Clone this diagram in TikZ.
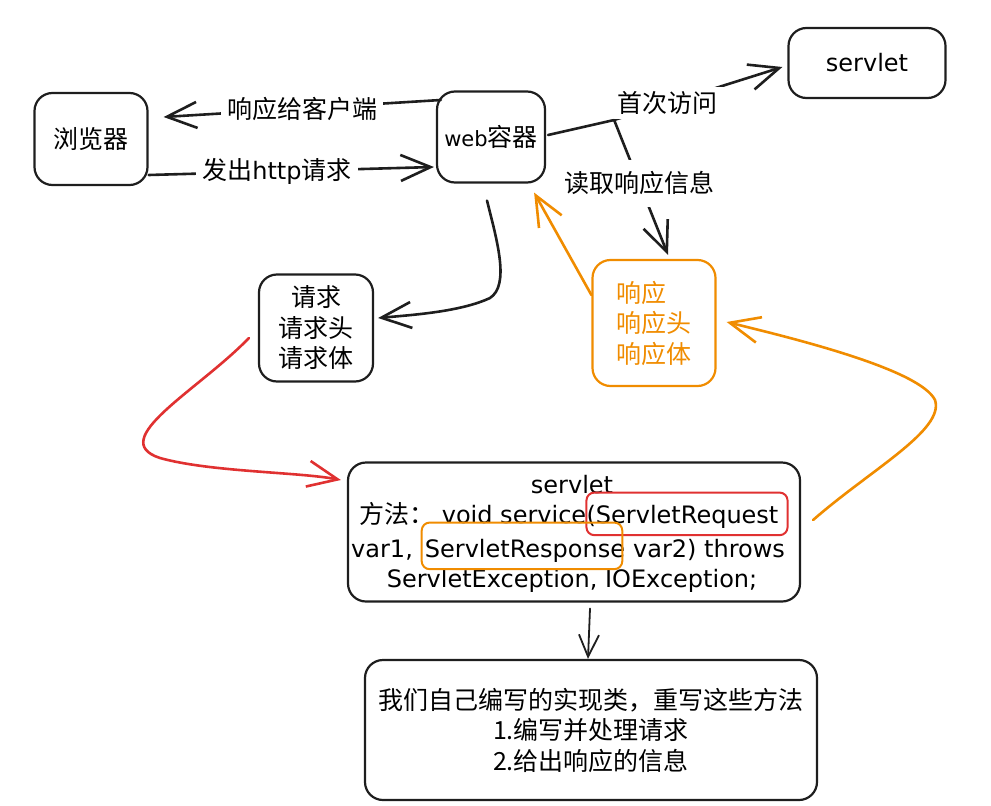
\documentclass[tikz,border=0pt]{standalone}
\usepackage{fontspec}
\setmainfont{Noto Sans CJK SC}
\newfontfamily\engfont{DejaVu Sans}
\newcommand\eng[2][24]{{\engfont\fontsize{#1}{30}\selectfont #2}}
\usetikzlibrary{arrows.meta,calc,positioning}

\definecolor{ink}{HTML}{1E1E1E}
\definecolor{exorange}{HTML}{F08C00}
\definecolor{exred}{HTML}{E03131}

\tikzset{
  box/.style={draw=ink, line width=2.2pt, rounded corners=18pt, align=center,
    inner sep=0pt, font=\fontsize{25}{30.5}\selectfont},
  conn/.style={draw=ink, line width=2.6pt, line cap=round, line join=round,
    -{Straight Barb[length=30pt,width=26pt,line width=2.6pt]}},
  thinconn/.style={draw=ink, line width=1.8pt, line cap=round, line join=round,
    -{Straight Barb[length=22pt,width=20pt,line width=1.8pt]}},
  lbl/.style={fill=white, font=\fontsize{25}{30}\selectfont, inner xsep=6pt, inner ysep=4pt},
  word/.style={inner sep=0pt, anchor=base west},
  hilite/.style={line width=2pt, rounded corners=8pt},
}

\begin{document}
\begin{tikzpicture}[x=1pt, y=-1pt]
\path[use as bounding box] (0,0) rectangle (991,806);

% boxes
\node[box, minimum width=113pt, minimum height=92pt] (browser) at (91,139) {浏览器};
\node[box, minimum width=108pt, minimum height=91pt] (web) at (491,137) {\eng[21]{web}容器};
\node[box, minimum width=157pt, minimum height=70pt] (srv) at (867,63) {\eng{servlet}};
\node[box, minimum width=114pt, minimum height=107pt] (req) at (316,328) {请求\\请求头\\请求体};
\node[box, draw=exorange, text=exorange, align=left, minimum width=123pt,
  minimum height=126pt] (resp) at (654,323) {响应\\响应头\\响应体};
\node[box, minimum width=452pt, minimum height=139pt] (svl) at (574,532) {};
\node[box, minimum width=452pt, minimum height=140pt] (impl) at (591,730)
  {我们自己编写的实现类，重写这些方法\\1.编写并处理请求\\2.给出响应的信息};

% servlet method text
\node[inner sep=0pt, anchor=base] (sl1) at (572,493) {\eng{servlet}};
\node[word] (sl2a) at (359,523) {\fontsize{25}{30}\selectfont 方法：\eng{\ void service}};
\node[word] (sl2b) at (sl2a.base east) {\eng{(ServletRequest}};
\node[word] (sl3a) at (351,557) {\eng{var1,\ \,}};
\node[word] (sl3b) at (sl3a.base east) {\eng{ServletResponse}};
\node[word] (sl3c) at (sl3b.base east) {\eng{\ var2) throws}};
\node[inner sep=0pt, anchor=base] (sl4) at (572,587) {\eng{ServletException, IOException;}};

\draw[hilite, exred] ($(sl2b.north west)+(0,-12)$) rectangle ($(sl2b.south east)+(9,7)$);
\draw[hilite, exorange] ($(sl3b.north west)+(-3,-16)$) rectangle ($(sl3b.south east)+(-3,7)$);

% connectors
\draw[conn] ($(web.west)+(5,-37)$) -- node[lbl, midway]{响应给客户端} ($(browser.east)+(15,-22)$);
\draw[conn] ($(browser.east)+(0,36)$) -- node[lbl, pos=0.45]{发出\eng{http}请求} ($(web.west)+(-2,30)$);

\coordinate (fork) at ($(web.east)+(68,-17)$);
\draw[conn] ($(web.east)+(2,-2)$) -- (fork) -- node[lbl, pos=0.32]{首次访问} ($(srv.west)+(-5,4)$);
\draw[conn] (fork) -- node[lbl, pos=0.47, inner ysep=12pt]{读取响应信息} ($(resp.north)+(14,-4)$);

\draw[conn] ($(web.south)+(-4,17)$) .. controls +(10,40) and +(20,-13) .. (490,298)
  .. controls +(-30,14) and +(33,-3) .. ($(req.east)+(4,-10)$);

\draw[conn, draw=exred] ($(req.west)+(-9,10)$) .. controls +(-50,52) and +(-55,-18) .. (160,458)
  .. controls +(50,14) and +(-42,-8) .. ($(svl.west)+(-6,-52)$);

\draw[conn, draw=exorange] ($(svl.east)+(12,-12)$) .. controls +(57,-50) and +(10,30) .. (935,400)
  .. controls +(-15,-30) and +(74,18) .. ($(resp.east)+(10,-1)$);
\draw[conn, draw=exorange] ($(resp.west)+(0,-28)$) -- ($(web.south east)+(-12,9)$);

\draw[thinconn] ($(svl.south)+(16,6)$) -- ($(impl.north)+(-3,0)$);
\end{tikzpicture}
\end{document}
